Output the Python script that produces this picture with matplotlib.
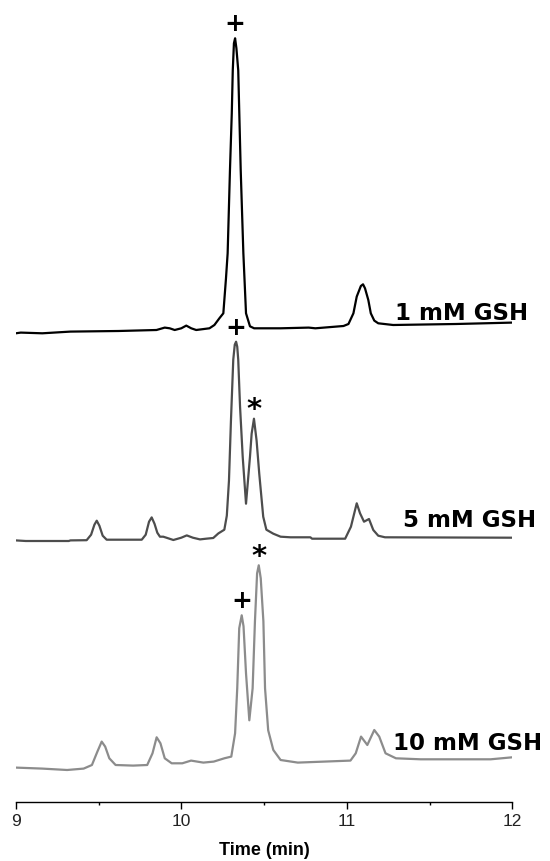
import numpy as np
import matplotlib
matplotlib.use("Agg")
import matplotlib.pyplot as plt

# chromatogram traces (time in min, signal in arbitrary units above baseline)
t_1mM = [9.00, 9.03, 9.16, 9.33, 9.62, 9.85, 9.90, 9.93, 9.96, 10.00, 10.03, 10.06, 10.09, 10.17,
         10.20, 10.23, 10.254, 10.27, 10.28, 10.294, 10.305, 10.311, 10.318, 10.325, 10.333, 10.344,
         10.359, 10.375, 10.391, 10.415, 10.44, 10.60, 10.77, 10.81, 10.98, 11.01, 11.04, 11.06,
         11.085, 11.098, 11.11, 11.13, 11.145, 11.166, 11.19, 11.28, 11.66, 12.00]
s_1mM = [0, 0.7, 0, 1.7, 2.3, 3.3, 5.7, 5.0, 3.3, 5.0, 7.7, 5.0, 3.3, 5.0,
         8.3, 15, 20, 55, 80, 163, 220, 263, 290, 295, 285, 263,
         163, 80, 20, 7, 5, 5, 5.7, 5, 7.3, 9.3, 20, 36.7,
         47.3, 49, 45, 33.3, 20, 12.7, 10, 8.3, 9.3, 10.7]

t_5mM = [9.00, 9.06, 9.32, 9.33, 9.428, 9.455, 9.475, 9.489, 9.505, 9.525, 9.549,
         9.761, 9.785, 9.805, 9.821, 9.838, 9.855, 9.871, 9.891, 9.91, 9.952,
         10.00, 10.033, 10.07, 10.113, 10.15, 10.193, 10.224,
         10.26, 10.275, 10.288, 10.30, 10.314, 10.323, 10.331, 10.338, 10.344, 10.355, 10.371, 10.391,
         10.415, 10.425, 10.439, 10.455, 10.471, 10.495, 10.514, 10.556,
         10.60, 10.66, 10.78, 10.79, 10.99,
         11.025, 11.06, 11.08, 11.104, 11.134, 11.16, 11.19, 11.231, 12.00]
s_5mM = [0.3, -0.3, -0.3, 0.3, 0.5, 6, 16, 20, 15, 5, 1,
         1, 6, 19, 23.3, 17, 8, 4, 4, 3, 0.7,
         3, 5.3, 3, 1.3, 2, 2.7, 7.3,
         11, 25, 60, 120, 181, 196, 199, 194, 181, 134, 84, 37,
         84, 107, 122, 100, 67, 24, 11, 7,
         4, 3.4, 3.4, 2, 2,
         14, 37.4, 27.4, 19, 21.7, 10.7, 5, 3.4, 3]

t_10mM = [9.00, 9.16, 9.31, 9.41, 9.46, 9.493, 9.519, 9.54, 9.565, 9.603,
          9.709, 9.794, 9.826, 9.851, 9.874, 9.90, 9.942, 10.006, 10.059, 10.133,
          10.196, 10.26, 10.302, 10.325, 10.338, 10.350, 10.365, 10.376, 10.391, 10.411,
          10.431, 10.445, 10.458, 10.468, 10.48, 10.496, 10.506, 10.525, 10.556, 10.60,
          10.704, 11.022, 11.054, 11.086, 11.124, 11.166, 11.196, 11.234, 11.297, 11.446,
          11.869, 12.00]
s_10mM = [0.7, -0.3, -1.7, -0.3, 3.3, 16.7, 26.7, 21.7, 10, 3.3,
          2.7, 3.3, 15, 31, 25, 10, 5, 5, 7.7, 5.7,
          6.7, 10, 11.7, 35, 80, 140, 153, 142, 95, 48,
          80, 147, 195, 203, 190, 147, 80, 38, 18.3, 8.3,
          5.7, 7.7, 15, 31.7, 23.3, 38.3, 31.7, 15, 10, 9,
          9, 11]

labels = ["1 mM GSH", "5 mM GSH", "10 mM GSH"]
# peaks marked: '+' and '*' with retention-time windows to look for the maximum
marks = [[("+", 10.25, 10.40)],
         [("+", 10.25, 10.38), ("*", 10.40, 10.50)],
         [("+", 10.30, 10.40), ("*", 10.42, 10.52)]]

# layout
offsets = [468.4, 261.0, 33.4]
colors = ["#000000", "#4d4d4d", "#8c8c8c"]
label_x = [11.292, 11.340, 11.282]
label_dy = [13.3, 13.4, 18.3]

fig = plt.figure(figsize=(5.5, 8.61), dpi=100)
ax = fig.add_axes([15.8 / 550, 1 - 801.7 / 861, (512.3 - 15.8) / 550, 801.7 / 861])

traces = [(t_1mM, s_1mM), (t_5mM, s_5mM), (t_10mM, s_10mM)]
for k, (t, s) in enumerate(traces):
    t = np.array(t)
    y = np.array(s) + offsets[k]
    ax.plot(t, y, color=colors[k], lw=1.6, solid_joinstyle="round")
    ax.text(label_x[k], offsets[k] + label_dy[k], labels[k], fontsize=16.5,
            fontweight="bold", family="DejaVu Sans", ha="left", va="baseline")
    for sym, lo, hi in marks[k]:
        m = (t >= lo) & (t <= hi)
        i = np.argmax(np.where(m, y, -1e9))
        dy = 10 if sym == "+" else -4
        ax.annotate(sym, xy=(t[i], y[i]), xytext=(0, dy), textcoords="offset points",
                    ha="center", va="center" if sym == "+" else "bottom",
                    fontsize=18 if sym == "+" else 21, fontweight="bold",
                    family="DejaVu Sans")

ax.set_xlim(9, 12)
ax.set_ylim(0, 801.7)
for side in ["left", "right", "top"]:
    ax.spines[side].set_visible(False)
ax.spines["bottom"].set_linewidth(1.0)
ax.set_yticks([])
ax.set_xticks([9, 10, 11, 12])
ax.set_xticks([9.5, 10.5, 11.5], minor=True)
ax.tick_params(axis="x", which="major", length=5, width=1.0, pad=4, labelsize=12.5,
               labelcolor="#222222", labelfontfamily="Liberation Sans")
ax.tick_params(axis="x", which="minor", length=2.5, width=1.0)
ax.set_xlabel("Time (min)", fontsize=13, fontweight="bold", family="Liberation Sans",
              labelpad=9)
ax.patch.set_alpha(0)

fig.savefig("out.png", dpi=100)
